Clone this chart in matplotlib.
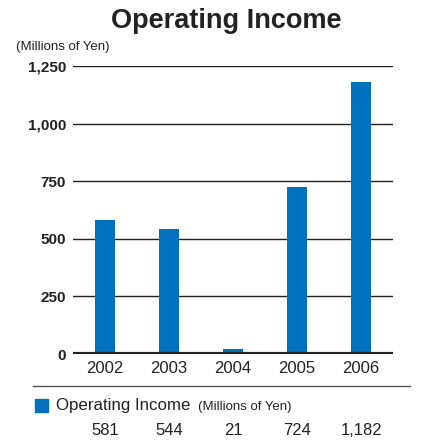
import matplotlib.pyplot as plt
import matplotlib.transforms as mtransforms
from matplotlib.patches import Rectangle
from matplotlib.lines import Line2D

plt.rcParams['font.family'] = ['Liberation Sans', 'DejaVu Sans']

years = ['2002', '2003', '2004', '2005', '2006']
income = [581, 544, 21, 724, 1182]
value_labels = ['581', '544', '21', '724', '1,182']
yticks = [0, 250, 500, 750, 1000, 1250]
ytick_labels = ['0', '250', '500', '750', '1,000', '1,250']

blue = '#0071bc'
dark = '#222222'

fig = plt.figure(figsize=(4.28, 4.44), dpi=100)
ax = fig.add_axes([0.1706, 0.2027, 0.748, 0.6486])

x = range(len(years))
ax.bar(x, income, width=0.31, color=blue, zorder=3)

ax.set_xlim(-0.5, 4.5)
ax.set_ylim(0, 1250)
ax.set_yticks(yticks)
ax.set_yticklabels(ytick_labels, fontweight='bold', fontsize=11, color=dark)
ax.set_xticks(list(x))
ax.set_xticklabels(years, fontsize=12, color=dark)
for v in yticks[1:]:
    ax.axhline(v, color=dark, lw=1.0, zorder=1)
ax.axhline(0, color=dark, lw=3, zorder=4)
for s in ax.spines.values():
    s.set_visible(False)
ax.tick_params(axis='both', length=0)
ax.tick_params(axis='y', pad=5)
ax.tick_params(axis='x', pad=5)

fig.text(0.528, 0.952, 'Operating Income', ha='center', va='center',
         fontsize=19.5, fontweight='bold', color=dark)
fig.text(0.037, 0.894, '(Millions of Yen)', ha='left', va='center',
         fontsize=9.5, color=dark)

# separator and legend row
fig.add_artist(Line2D([0.077, 0.958], [0.131, 0.131], color='#555555', lw=1))
fig.add_artist(Rectangle((0.082, 0.072), 0.031, 0.029, color=blue,
                         transform=fig.transFigure))
fig.text(0.13, 0.086, 'Operating Income', ha='left', va='center',
         fontsize=12.2, color=dark)
fig.text(0.462, 0.084, '(Millions of Yen)', ha='left', va='center',
         fontsize=9.5, color=dark)

trans = mtransforms.blended_transform_factory(ax.transData, fig.transFigure)
for i, lab in enumerate(value_labels):
    ax.text(i, 0.031, lab, transform=trans, ha='center', va='center',
            fontsize=12, color=dark)

fig.savefig('out.png', dpi=100)
